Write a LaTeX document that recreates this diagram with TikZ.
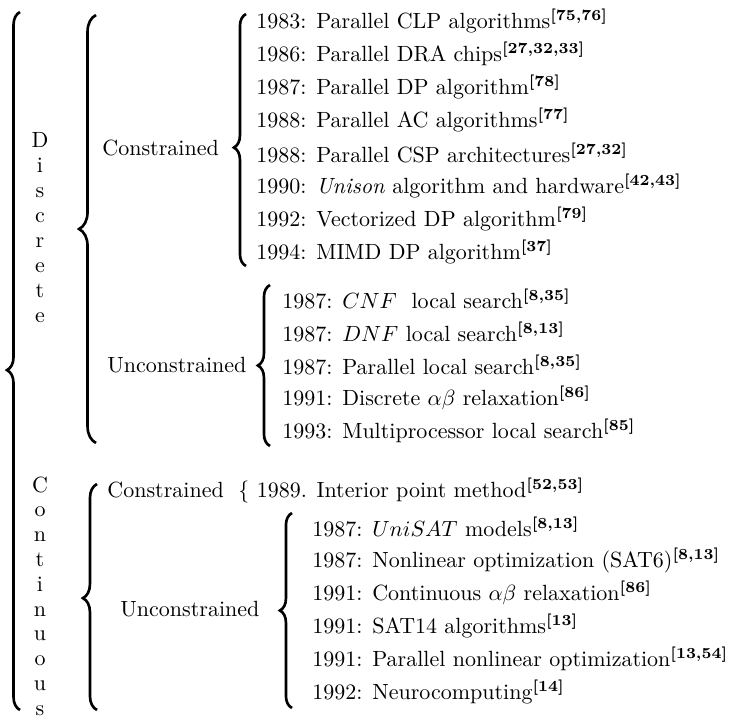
\documentclass[tikz,border=0pt]{standalone}
\usetikzlibrary{decorations.pathreplacing}
\newcommand{\refs}[1]{\textsuperscript{\bfseries[#1]}}
\begin{document}
\begin{tikzpicture}[x=0.4545pt,y=-0.4545pt,
  brc/.style={decorate,decoration={brace,amplitude=#1},line width=1.2pt},
  brc/.default=5.5pt,
  item/.style={anchor=west,inner sep=0pt},
  cat/.style={anchor=west,inner sep=0pt},
  ltr/.style={anchor=base,inner sep=0pt}]
  \useasboundingbox (0,0) rectangle (731,716);
  % Discrete / Constrained
  \node[cat] (dcon) at (102,148) {Constrained};
  \node[item] (dc1) at (256,21) {1983: Parallel CLP algorithms\refs{75,76}};
  \node[item] (dc2) at (256,54) {1986: Parallel DRA chips\refs{27,32,33}};
  \node[item] (dc3) at (256,87) {1987: Parallel DP algorithm\refs{78}};
  \node[item] (dc4) at (256,120) {1988: Parallel AC algorithms\refs{77}};
  \node[item] (dc5) at (256,153) {1988: Parallel CSP architectures\refs{27,32}};
  \node[item] (dc6) at (256,186) {1990: \textit{Unison} algorithm and hardware\refs{42,43}};
  \node[item] (dc7) at (256,219) {1992: Vectorized DP algorithm\refs{79}};
  \node[item] (dc8) at (256,252) {1994: MIMD DP algorithm\refs{37}};
  % Discrete / Unconstrained
  \node[cat] (duncon) at (107,365) {Unconstrained};
  \node[item] (du1) at (282,299) {1987: $CNF$\ \ local search\refs{8,35}};
  \node[item] (du2) at (282,332) {1987: $DNF$ local search\refs{8,13}};
  \node[item] (du3) at (282,365) {1987: Parallel local search\refs{8,35}};
  \node[item] (du4) at (282,398) {1991: Discrete $\alpha\beta$ relaxation\refs{86}};
  \node[item] (du5) at (282,431) {1993: Multiprocessor local search\refs{85}};
  % Continuous / Constrained
  \node[cat] (ccon) at (107,490) {Constrained};
  \node[item] (cc1) at (238,490) {$\{$\ 1989. Interior point method\refs{52,53}};
  % Continuous / Unconstrained
  \node[cat] (cuncon) at (120,609) {Unconstrained};
  \node[item] (cu1) at (312,527) {1987: $UniSAT$ models\refs{8,13}};
  \node[item] (cu2) at (312,560) {1987: Nonlinear optimization (SAT6)\refs{8,13}};
  \node[item] (cu3) at (312,593) {1991: Continuous $\alpha\beta$ relaxation\refs{86}};
  \node[item] (cu4) at (312,626) {1991: SAT14 algorithms\refs{13}};
  \node[item] (cu5) at (312,659) {1991: Parallel nonlinear optimization\refs{13,54}};
  \node[item] (cu6) at (312,692) {1992: Neurocomputing\refs{14}};
  % vertical words
  \foreach \l [count=\i] in {D,i,s,c,r,e,t,e}
    \node[ltr] (d\i) at (40,{147+25*(\i-1)}) {\l};
  \foreach \l [count=\i] in {C,o,n,t,i,n,u,o,u,s}
    \node[ltr] (c\i) at (40,{492+24.8*(\i-1)}) {\l};
  % brace ends
  \coordinate (otop) at (20,12);
  \coordinate (obot) at (20,710);
  \coordinate (dtop) at (96,15);
  \coordinate (dbot) at (96,443);
  \coordinate (ctop) at (97,484);
  \coordinate (cbot) at (97,710);
  \coordinate (dctop) at (246,14);
  \coordinate (dcbot) at (246,266);
  \coordinate (dutop) at (270,285);
  \coordinate (dubot) at (270,446);
  \coordinate (cutop) at (292,513);
  \coordinate (cubot) at (292,708);
  % outer braces
  \draw[brc=5.9pt,decoration={aspect=0.487}] (obot) -- (otop);
  \draw[brc=7.7pt] (dbot) -- (dtop);
  \draw[brc=6.4pt,decoration={aspect=0.495}] (cbot) -- (ctop);
  % inner braces
  \draw[brc,decoration={aspect=0.47}] (dcbot) -- (dctop);
  \draw[brc,decoration={aspect=0.5}] (dubot) -- (dutop);
  \draw[brc,decoration={aspect=0.5}] (cubot) -- (cutop);
\end{tikzpicture}
\end{document}
